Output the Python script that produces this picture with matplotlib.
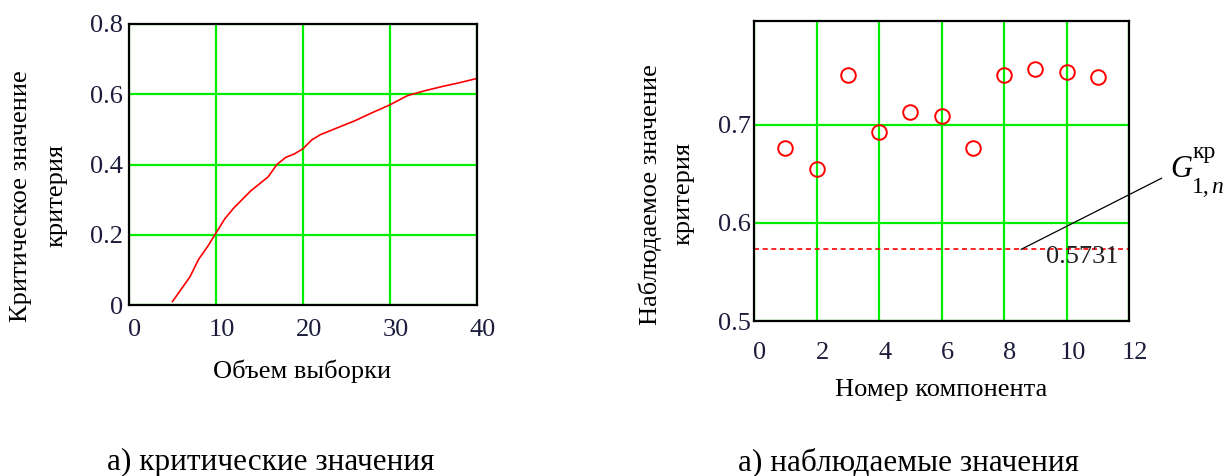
import matplotlib
matplotlib.use("Agg")
import matplotlib.pyplot as plt
from matplotlib.transforms import ScaledTranslation

# ---- data ----
sample_size = [5, 6, 7, 8, 9, 10, 11, 12, 13, 14, 15, 16, 17, 18, 19, 20, 21, 22,
               24, 26, 28, 30, 32, 34, 36, 38, 40]
crit_value = [0.01, 0.045, 0.08, 0.13, 0.165, 0.205, 0.245, 0.275, 0.30, 0.325,
              0.345, 0.365, 0.40, 0.42, 0.43, 0.445, 0.47, 0.485,
              0.505, 0.525, 0.548, 0.57, 0.596, 0.61, 0.622, 0.633, 0.645]

components = [1, 2, 3, 4, 5, 6, 7, 8, 9, 10, 11]
observed = [0.676, 0.655, 0.751, 0.693, 0.713, 0.709, 0.676, 0.751, 0.757, 0.754, 0.749]
g_crit = 0.5731

left_xticks = [0, 10, 20, 30, 40]
left_yticks = [0, 0.2, 0.4, 0.6, 0.8]
left_yticklabels = ["0", "0.2", "0.4", "0.6", "0.8"]
right_xticks = [0, 2, 4, 6, 8, 10, 12]
right_yticks = [0.5, 0.6, 0.7]
right_yticklabels = ["0.5", "0.6", "0.7"]

SERIF = ["Liberation Serif", "DejaVu Serif"]
plt.rcParams["font.family"] = SERIF

W, H = 1228, 476
fig = plt.figure(figsize=(W / 100, H / 100), dpi=100)


def px_box(x0, x1, y_top, y_bot):
    return [x0 / W, 1 - y_bot / H, (x1 - x0) / W, (y_bot - y_top) / H]


GREEN = "#00ee00"
TICKC = "#1c1c3c"


def style(ax, xpad, ypad, xshift_px):
    ax.grid(True, color=GREEN, lw=1.6)
    ax.set_axisbelow(True)
    for s in ax.spines.values():
        s.set_linewidth(1.6)
        s.set_color("black")
        s.set_zorder(5)
    ax.tick_params(length=0, labelsize=19, colors=TICKC)
    ax.tick_params(axis="x", pad=xpad)
    ax.tick_params(axis="y", pad=ypad)
    off = ScaledTranslation(xshift_px / 100, 0, fig.dpi_scale_trans)
    for lab in ax.get_xticklabels():
        lab.set_transform(lab.get_transform() + off)


# ---- left panel ----
ax1 = fig.add_axes(px_box(129, 477, 24, 305))
ax1.plot(sample_size, crit_value, color="red", lw=1.2, zorder=3)
ax1.set_xlim(0, 40)
ax1.set_ylim(0, 0.8)
ax1.set_xticks(left_xticks)
ax1.set_yticks(left_yticks)
ax1.set_yticklabels(left_yticklabels)
style(ax1, 10, 4.5, 6)

fig.text(302 / W, 1 - 371 / H, "Объем выборки", ha="center", va="center", fontsize=19)
fig.text(21 / W, 1 - 196 / H, "Критическое значение", rotation=90,
         ha="center", va="center", fontsize=19)
fig.text(56 / W, 1 - 195 / H, "критерия", rotation=90,
         ha="center", va="center", fontsize=19)

# ---- right panel ----
ax2 = fig.add_axes(px_box(754, 1129, 21, 321))
ax2.plot(components, observed, ls="none", marker="o", ms=10.5, mfc="none",
         mec="red", mew=1.4, zorder=4)
ax2.axhline(g_crit, color="red", lw=1.2, ls=(0, (3, 2.2)), zorder=3)
ax2.set_xlim(0, 12)
ax2.set_ylim(0.5, 0.806)
ax2.set_xticks(right_xticks)
ax2.set_yticks(right_yticks)
ax2.set_yticklabels(right_yticklabels)
style(ax2, 15, 2, 6)

ax2.text(10.5, 0.5657, "0.5731", ha="center", va="center", fontsize=19,
         color="#202020", zorder=6)
ax2.plot([8.55, 13.04], [g_crit, 0.6456], color="black", lw=0.9,
         clip_on=False, zorder=6)

fig.text(1170 / W, 1 - 177 / H, "G", fontsize=22, style="italic", ha="left",
         va="baseline")
fig.text(1193 / W, 1 - 158 / H, "кр", fontsize=17, ha="left", va="baseline")
fig.text(1192 / W, 1 - 193 / H, "1,", fontsize=17, ha="left", va="baseline")
fig.text(1211 / W, 1 - 193 / H, "n", fontsize=17, style="italic", ha="left",
         va="baseline")

fig.text(941 / W, 1 - 390 / H, "Номер компонента", ha="center", va="center", fontsize=19)
fig.text(650 / W, 1 - 195 / H, "Наблюдаемое значение", rotation=90,
         ha="center", va="center", fontsize=19)
fig.text(683 / W, 1 - 193 / H, "критерия", rotation=90,
         ha="center", va="center", fontsize=19)

# ---- captions ----
fig.text(271 / W, 1 - 462 / H, "а) критические значения", ha="center", va="center",
         fontsize=22.5)
fig.text(909 / W, 1 - 462 / H, "а) наблюдаемые значения", ha="center", va="center",
         fontsize=22.5)

fig.savefig("out.png", dpi=100, facecolor="white")
